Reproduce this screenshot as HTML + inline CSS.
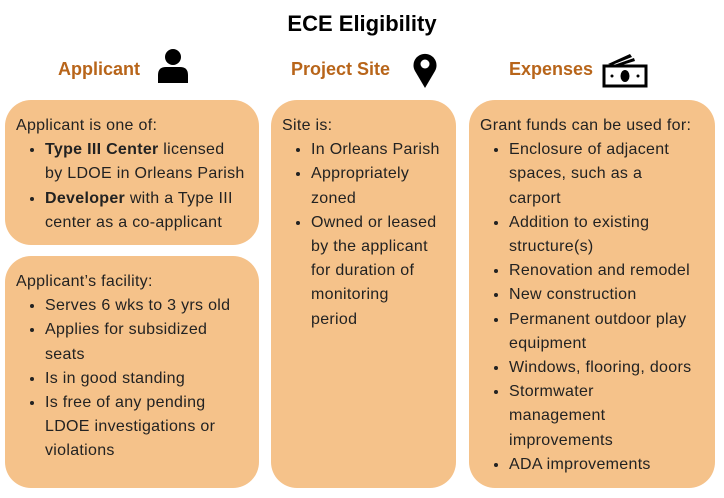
<!DOCTYPE html>
<html><head><meta charset="utf-8"><style>
body{margin:0;width:724px;height:498px;background:#fff;font-family:"Liberation Sans",sans-serif;position:relative;overflow:hidden}
.t{position:absolute;top:11px;left:0;width:724px;text-align:center;font-size:22px;font-weight:bold;color:#000}
.h{position:absolute;top:59px;font-size:18px;font-weight:bold;color:#b8651a}
.b{position:absolute;background:#f5c28a;border-radius:26px;font-size:16px;letter-spacing:0.3px;color:#222;line-height:24.2px;box-sizing:border-box;padding:14px 0 0 11px;white-space:nowrap}
ul{margin:0;padding:0 0 0 29px}
li{margin:0}
svg{position:absolute}
</style></head><body>
<div class="t">ECE Eligibility</div>
<div class="h" style="left:58px">Applicant</div>
<div class="h" style="left:291px">Project Site</div>
<div class="h" style="left:509px">Expenses</div>
<svg style="left:156px;top:48px" width="34" height="36" viewBox="0 0 34 36"><circle cx="17" cy="9" r="8"/><path d="M2 35 V27 Q2 19 10 19 H24 Q32 19 32 27 V35Z"/></svg>
<svg style="left:412px;top:52px" width="26" height="36" viewBox="0 0 26 36"><path d="M13 36 L3 19 A11.5 11.5 0 1 1 23 19Z"/><circle cx="13" cy="12" r="4.5" fill="#fff"/></svg>
<svg style="left:602px;top:52px" width="46" height="36" viewBox="0 0 46 36"><path d="M6 12 L28 2 L30 5 L10 13Z M12 13 L32 6 L33 9 L20 13Z"/><rect x="2" y="14" width="42" height="20" fill="none" stroke="#000" stroke-width="3"/><ellipse cx="23" cy="24" rx="4.5" ry="6"/><circle cx="10" cy="24" r="1.5"/><circle cx="36" cy="24" r="1.5"/></svg>
<div class="b" style="left:5px;top:100px;width:254px;height:145px">Applicant is one of:<ul><li><b>Type III Center</b> licensed<br>by LDOE in Orleans Parish</li><li><b>Developer</b> with a Type III<br>center as a co-applicant</li></ul></div>
<div class="b" style="left:5px;top:256px;width:254px;height:232px">Applicant’s facility:<ul><li>Serves 6 wks to 3 yrs old</li><li>Applies for subsidized<br>seats</li><li>Is in good standing</li><li>Is free of any pending<br>LDOE investigations or<br>violations</li></ul></div>
<div class="b" style="left:271px;top:100px;width:185px;height:388px">Site is:<ul><li>In Orleans Parish</li><li>Appropriately<br>zoned</li><li>Owned or leased<br>by the applicant<br>for duration of<br>monitoring<br>period</li></ul></div>
<div class="b" style="left:469px;top:100px;width:246px;height:388px">Grant funds can be used for:<ul><li>Enclosure of adjacent<br>spaces, such as a<br>carport</li><li>Addition to existing<br>structure(s)</li><li>Renovation and remodel</li><li>New construction</li><li>Permanent outdoor play<br>equipment</li><li>Windows, flooring, doors</li><li>Stormwater<br>management<br>improvements</li><li>ADA improvements</li></ul></div>
</body></html>
